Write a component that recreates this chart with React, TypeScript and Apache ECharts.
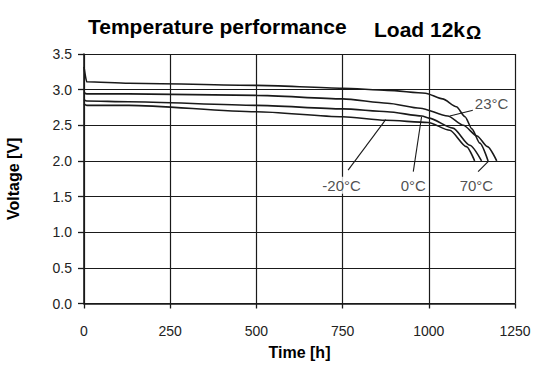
import React, { useEffect, useRef } from "react";
import * as echarts from "echarts";

// Discharge curves: time [h] and voltage [V]
const t70 = [0, 8, 130, 500, 750, 880, 990, 1040, 1080, 1105, 1125, 1148, 1172];
const v70 = [3.32, 3.11, 3.09, 3.06, 3.02, 2.99, 2.95, 2.87, 2.76, 2.62, 2.45, 2.25, 2.0];

const t23 = [0, 8, 130, 500, 750, 880, 975, 1055, 1100, 1140, 1170, 1197];
const v23 = [2.96, 2.94, 2.94, 2.92, 2.87, 2.81, 2.74, 2.63, 2.5, 2.35, 2.2, 2.0];

const t0 = [0, 8, 130, 500, 750, 880, 980, 1000, 1070, 1119, 1153];
const v0 = [2.86, 2.84, 2.83, 2.78, 2.73, 2.69, 2.63, 2.6, 2.46, 2.22, 2.0];

const tm20 = [0, 8, 130, 500, 750, 875, 998, 1061, 1109, 1133];
const vm20 = [2.8, 2.78, 2.78, 2.69, 2.62, 2.57, 2.54, 2.43, 2.2, 2.0];

// Curve labels and their pointer lines
const labelNames = ["-20°C", "0°C", "70°C", "23°C"];
const labelT = [747, 955, 1138, 1182];
const labelV = [1.66, 1.66, 1.66, 2.81];
const pointerFrom = [
  [766, 1.87],
  [955, 1.85],
  [1143, 1.85],
  [1128, 2.71],
];
const pointerTo = [
  [875, 2.58],
  [979, 2.62],
  [1172, 1.99],
  [1061, 2.63],
];

const xTicks = [0, 250, 500, 750, 1000, 1250];
const yMin = 0;
const yMax = 3.5;

const FONT = "'Liberation Sans', Arial, sans-serif";
const INK = "#1a1a1a";

function zip(ts: number[], vs: number[]) {
  return ts.map((t, i) => [t, vs[i]]);
}

export default function App() {
  const ref = useRef<HTMLDivElement>(null);
  useEffect(() => {
    if (!ref.current) return;
    const chart = echarts.init(ref.current, undefined, { renderer: "svg" });
    const curve = (name: string, data: number[][]) => ({
      name,
      type: "line",
      data,
      showSymbol: false,
      symbol: "none",
      smooth: 0.25,
      smoothMonotone: "x",
      lineStyle: { color: INK, width: 1.6 },
      z: 3,
    });
    const pointers = pointerFrom.map((p, i) => ({
      type: "line",
      data: [p, pointerTo[i]],
      symbol: "none",
      lineStyle: { color: INK, width: 1.1 },
      z: 4,
    }));
    chart.setOption({
      animation: false,
      title: [
        {
          text: "Temperature performance",
          left: 83,
          top: 11,
          textStyle: { fontFamily: FONT, fontSize: 21, fontWeight: "bold", color: "#000" },
        },
        {
          text: "Load 12k{o|Ω}",
          left: 369,
          top: 11,
          textStyle: {
            fontFamily: FONT,
            fontSize: 21,
            fontWeight: "bold",
            color: "#000",
            rich: {
              o: { fontFamily: FONT, fontSize: 19, fontWeight: "bold", color: "#000", padding: [7, 0, 0, 1] },
            },
          },
        },
      ],
      grid: {
        left: 84,
        right: 18,
        top: 54,
        bottom: 61.5,
        show: false,
        containLabel: false,
        outerBoundsMode: "none",
      },
      xAxis: {
        type: "value",
        min: xTicks[0],
        max: xTicks[xTicks.length - 1],
        interval: 250,
        name: "Time [h]",
        nameLocation: "middle",
        nameGap: 41,
        nameTextStyle: { fontFamily: FONT, fontSize: 16, fontWeight: "bold", color: "#000" },
        axisLine: { show: true, onZero: false, lineStyle: { color: INK, width: 1.6 } },
        axisTick: { show: true, length: 5, lineStyle: { color: INK, width: 1.3 } },
        axisLabel: {
          margin: 20,
          fontFamily: FONT,
          fontSize: 14,
          color: "#222",
          formatter: (v: number) => String(v),
        },
        splitLine: { show: true, lineStyle: { color: INK, width: 1.2 } },
      },
      yAxis: {
        type: "value",
        min: yMin,
        max: yMax,
        interval: 0.5,
        name: "Voltage [V]",
        nameLocation: "middle",
        nameGap: 63,
        nameTextStyle: { fontFamily: FONT, fontSize: 16, fontWeight: "bold", color: "#000" },
        axisLine: { show: true, lineStyle: { color: INK, width: 1.6 } },
        axisTick: { show: true, length: 6, lineStyle: { color: INK, width: 1.3 } },
        axisLabel: {
          margin: 12,
          fontFamily: FONT,
          fontSize: 14,
          color: "#222",
          formatter: (v: number) => v.toFixed(1),
        },
        splitLine: { show: true, lineStyle: { color: INK, width: 1.2 } },
      },
      series: [
        curve("70°C", zip(t70, v70)),
        curve("23°C", zip(t23, v23)),
        curve("0°C", zip(t0, v0)),
        curve("-20°C", zip(tm20, vm20)),
        ...pointers,
        {
          type: "scatter",
          symbolSize: 1,
          itemStyle: { color: "rgba(0,0,0,0)" },
          data: labelNames.map((n, i) => ({ name: n, value: [labelT[i], labelV[i]] })),
          label: {
            show: true,
            position: "inside",
            formatter: "{b}",
            fontFamily: FONT,
            fontSize: 15,
            color: "#222",
            backgroundColor: "#fff",
            padding: [1, 2],
          },
          z: 5,
        },
      ],
    });
    return () => chart.dispose();
  }, []);
  return (
    <div
      ref={ref}
      style={{ position: "fixed", left: 0, top: 0, width: 533, height: 365, background: "#fff" }}
    />
  );
}
